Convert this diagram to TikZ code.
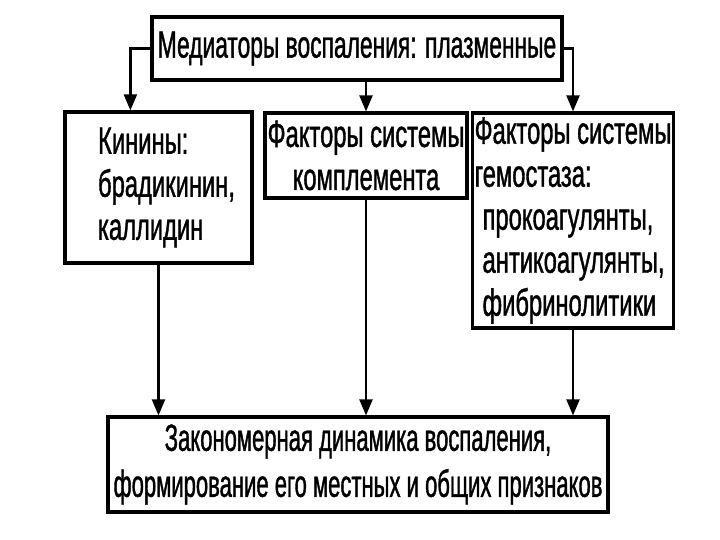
\documentclass[tikz,border=0pt]{standalone}
\usepackage{fontspec}
\setmainfont{Liberation Sans}[FakeStretch=0.625, FakeBold=1]
\newfontfamily\widefont{Liberation Sans}[FakeStretch=0.6, FakeBold=1]
\newfontfamily\narrowfont{Liberation Sans}[FakeStretch=0.58, FakeBold=1]
\usetikzlibrary{arrows.meta}
\begin{document}
\begin{tikzpicture}[x=1pt, y=-1pt,
  font=\fontsize{38}{43}\selectfont,
  box/.style={draw, line width=3.2pt, inner sep=2pt},
  link/.style={line width=2.2pt, -{Triangle[width=13pt,length=16pt]}}]
\useasboundingbox (0,0) rectangle (720,540);
\node[box, minimum width=410pt, minimum height=63pt, font=\fontsize{38}{43}\widefont] (mediators) at (357,48.5) {Медиаторы воспаления: плазменные};
\node[box, minimum width=187pt, minimum height=151pt, align=left] (kinins) at (158.5,187.5) {\hspace{16pt}Кинины:\\ \hspace{16pt}брадикинин,\\ \hspace{16pt}каллидин};
\node[box, minimum width=202pt, minimum height=85pt, align=center] (complement) at (366,155.5) {Факторы системы\\ комплемента};
\node[box, minimum width=200pt, minimum height=215pt, align=left] (hemostasis) at (573,220.5) {Факторы системы\\ гемостаза:\\ \hspace{8pt}прокоагулянты,\\ \hspace{8pt}антикоагулянты,\\ \hspace{8pt}фибринолитики};
\node[box, minimum width=500pt, minimum height=95pt, align=center, font=\fontsize{38}{46}\narrowfont] (dynamics) at (358,464.5) {Закономерная динамика воспаления,\\ формирование его местных и общих признаков};
\draw[link] (mediators.west) -| ([xshift=67pt]kinins.north west);
\draw[link] (mediators.south -| complement.north) -- (complement.north);
\draw[link] (mediators.east) -| (hemostasis.north);
\draw[link] (kinins.south) -- (kinins.south |- dynamics.north);
\draw[link] (complement.south) -- (complement.south |- dynamics.north);
\draw[link] (hemostasis.south) -- (hemostasis.south |- dynamics.north);
\end{tikzpicture}
\end{document}
